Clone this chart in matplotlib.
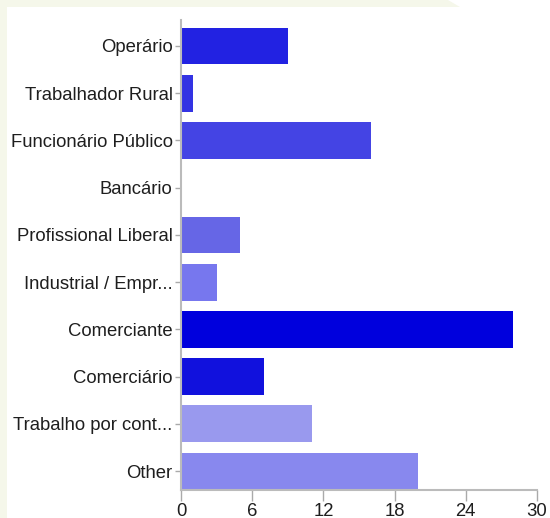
import matplotlib
matplotlib.use('Agg')
import matplotlib.pyplot as plt
from matplotlib.patches import Polygon

categories = ['Operário', 'Trabalhador Rural', 'Funcionário Público', 'Bancário',
              'Profissional Liberal', 'Industrial / Empr...', 'Comerciante',
              'Comerciário', 'Trabalho por cont...', 'Other']
values = [9, 1, 16, 0, 5, 3, 28, 7, 11, 20]
colors = ['#2222e2', '#3333e3', '#4444e4', '#5555e5', '#6666e6',
          '#7777ee', '#0000dd', '#1111dd', '#9999ee', '#8888ee']
xticks = [0, 6, 12, 18, 24, 30]

plt.rcParams['font.family'] = ['Liberation Sans', 'DejaVu Sans']

fig = plt.figure(figsize=(5.5, 5.18), dpi=100)
fig.patch.set_facecolor('white')

# cream page strip along top and left edge
W, H = 550, 518
cream = '#f5f7ea'
fig.patches.append(Polygon([(0, 1), (448 / W, 1), (460 / W, 1 - 7 / H), (7 / W, 1 - 7 / H),
                            (7 / W, 0), (0, 0)], closed=True, transform=fig.transFigure,
                           facecolor=cream, edgecolor='none', zorder=0))

ax = fig.add_axes([181 / W, (H - 490) / H, (537 - 181) / W, (490 - 20) / H])
ax.set_facecolor('none')

pos = range(len(categories))
ax.barh(pos, values, height=0.78, color=colors, edgecolor='none', zorder=2)

ax.set_xlim(0, 30)
ax.set_ylim(len(categories) - 0.6, -0.55)
ax.set_xticks(xticks)
ax.set_xticklabels([str(t) for t in xticks])
ax.set_yticks(list(pos))
ax.set_yticklabels(categories)

for s in ['top', 'right']:
    ax.spines[s].set_visible(False)
for s in ['left', 'bottom']:
    ax.spines[s].set_color('#bbbbbb')
    ax.spines[s].set_linewidth(1.5)

ax.tick_params(axis='y', length=4, width=1, color='#aaaaaa', labelsize=13.3,
               labelcolor='#1e1e1e', pad=2)
ax.tick_params(axis='x', length=8, width=1, color='#aaaaaa', labelsize=13.3,
               labelcolor='#1e1e1e', pad=1)

fig.savefig('out.png', dpi=100, facecolor='white')
